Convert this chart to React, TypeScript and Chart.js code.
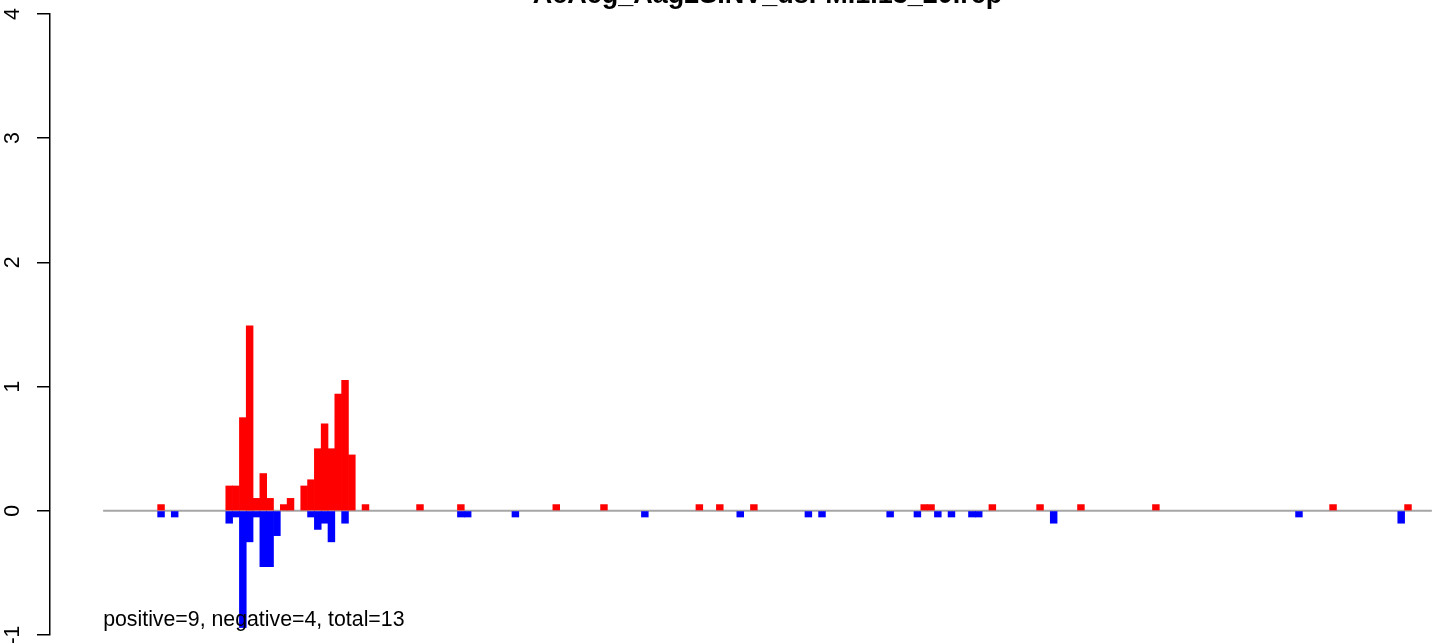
import React, { useEffect, useRef } from 'react';
import { Chart, registerables } from 'chart.js';

Chart.register(...registerables);

// ---- data ----
const chartTitle = 'AcAeg_Aag2SINV_dsFM.1.13_20.rep';
const summaryText = 'positive=9, negative=4, total=13';
const seqLength = 195;
const yMin = -1;
const yMax = 4;
const summaryY = -0.88;

const positivePositions = [
  8, 18, 19, 20, 21, 22, 23, 24, 26, 27, 29, 30, 31, 32, 33, 34, 35, 36, 38,
  46, 52, 66, 73, 87, 90, 95, 120, 121, 130, 137, 143, 154, 180, 191,
];
const positiveValues = [
  0.05, 0.2, 0.2, 0.75, 1.49, 0.1, 0.3, 0.1, 0.05, 0.1, 0.2, 0.25, 0.5, 0.7, 0.5, 0.94, 1.05, 0.45, 0.05,
  0.05, 0.05, 0.05, 0.05, 0.05, 0.05, 0.05, 0.05, 0.05, 0.05, 0.05, 0.05, 0.05, 0.05, 0.05,
];
const negativePositions = [
  8, 10, 18, 19, 20, 21, 22, 23, 24, 25, 30, 31, 32, 33, 35, 52, 53, 60, 79, 93,
  103, 105, 115, 119, 122, 124, 127, 128, 139, 175, 190,
];
const negativeValues = [
  -0.05, -0.05, -0.1, -0.05, -0.94, -0.25, -0.05, -0.45, -0.45, -0.2, -0.05, -0.15, -0.1, -0.25, -0.1,
  -0.05, -0.05, -0.05, -0.05, -0.05, -0.05, -0.05, -0.05, -0.05, -0.05, -0.05, -0.05, -0.05, -0.1, -0.05, -0.1,
];

const FONT = "'Liberation Sans', Arial, Helvetica, sans-serif";
const CANVAS_W = 1536;
const CANVAS_H = 713;
const OFFSET_TOP = 40;

export default function App() {
  const ref = useRef<HTMLCanvasElement | null>(null);

  useEffect(() => {
    document.body.style.margin = '0';
    document.body.style.overflow = 'hidden';
    const canvas = ref.current;
    if (!canvas) return;

    const summaryPlugin = {
      id: 'summaryText',
      afterDatasetsDraw(chart: any) {
        const { ctx, scales } = chart;
        ctx.save();
        ctx.font = `21.3px ${FONT}`;
        ctx.fillStyle = '#000000';
        ctx.textAlign = 'left';
        ctx.textBaseline = 'middle';
        ctx.fillText(summaryText, scales.x.getPixelForValue(0), scales.y.getPixelForValue(summaryY));
        ctx.restore();
      },
    };

    const chart = new Chart(canvas, {
      type: 'bar',
      data: {
        datasets: [
          {
            type: 'line',
            data: [
              { x: 0, y: 0 },
              { x: seqLength, y: 0 },
            ],
            borderColor: '#A6A6A6',
            borderWidth: 2,
            pointRadius: 0,
            order: 2,
          } as any,
          {
            type: 'bar',
            data: positivePositions.map((p, i) => ({ x: p + 0.5, y: positiveValues[i] })),
            backgroundColor: '#FF0000',
            borderWidth: 0,
            grouped: false,
            barPercentage: 1,
            categoryPercentage: 1,
            order: 1,
          } as any,
          {
            type: 'bar',
            data: negativePositions.map((p, i) => ({ x: p + 0.5, y: negativeValues[i] })),
            backgroundColor: '#0000FF',
            borderWidth: 0,
            grouped: false,
            barPercentage: 1,
            categoryPercentage: 1,
            order: 1,
          } as any,
        ],
      },
      options: {
        responsive: false,
        animation: false,
        devicePixelRatio: 1,
        layout: { padding: { left: 0, right: 51, top: 0, bottom: 38 } },
        plugins: {
          legend: { display: false },
          tooltip: { enabled: false },
          title: {
            display: true,
            text: chartTitle,
            fullSize: false,
            color: '#000000',
            font: { family: FONT, size: 27, weight: 'bold', lineHeight: 1.2 },
            padding: { top: 19.4, bottom: 2.2 },
          },
        },
        scales: {
          x: {
            type: 'linear',
            display: false,
            min: -7.8,
            max: seqLength + 7.8,
            offset: false,
            grid: { offset: false },
          },
          y: {
            type: 'linear',
            position: 'left',
            min: yMin,
            max: yMax,
            afterFit(scale: any) {
              scale.width = 50;
            },
            ticks: {
              stepSize: 1,
              minRotation: 90,
              maxRotation: 90,
              crossAlign: 'center',
              padding: 14,
              color: '#000000',
              font: { family: FONT, size: 21.3 },
            },
            grid: {
              drawOnChartArea: false,
              drawTicks: true,
              tickLength: 13,
              color: '#000000',
              lineWidth: 1.5,
            },
            border: { display: true, color: '#000000', width: 1.5 },
          },
        },
      } as any,
      plugins: [summaryPlugin],
    });

    return () => chart.destroy();
  }, []);

  return (
    <div style={{ position: 'fixed', left: 0, top: -OFFSET_TOP, width: CANVAS_W, height: CANVAS_H }}>
      <canvas ref={ref} width={CANVAS_W} height={CANVAS_H} />
    </div>
  );
}
